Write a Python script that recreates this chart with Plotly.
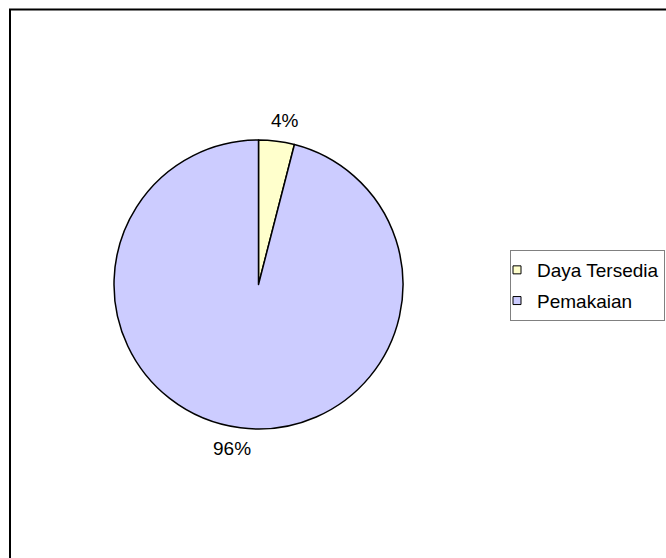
import math
import plotly.graph_objects as go

# Slice categories and their shares
categories = ["Daya Tersedia", "Pemakaian"]
values = [4, 96]
colors = ["#FFFFCC", "#CCCCFF"]

W, H = 666, 558
FONT = "Liberation Sans, Arial, sans-serif"

# Pie placement (pixels)
CX, CY, R = 258.5, 284.5, 144.5
LABEL_R = 165

fig = go.Figure()

fig.add_trace(go.Pie(
    labels=categories,
    values=values,
    sort=False,
    direction="clockwise",
    rotation=0,
    marker=dict(colors=colors, line=dict(color="#000000", width=1.5)),
    textinfo="none",
    domain=dict(x=[(CX - R) / W, (CX + R) / W],
                y=[1 - (CY + R) / H, 1 - (CY - R) / H]),
    showlegend=False,
    hoverinfo="label+percent",
))

# Percentage labels placed along each slice's bisector, outside the pie,
# nudged sideways away from the vertical axis
total = sum(values)
start = 0.0
annotations = []
for v in values:
    mid = (start + v / 2) / total * 2 * math.pi
    start += v
    px = CX + LABEL_R * math.sin(mid)
    py = CY - LABEL_R * math.cos(mid)
    side = 1 if math.sin(mid) >= 0 else -1
    annotations.append(dict(
        x=px / W, y=1 - py / H, xref="paper", yref="paper",
        text=f"{round(v / total * 100)}%", showarrow=False,
        xanchor="center", yanchor="middle", xshift=6 * side,
        font=dict(family=FONT, size=19, color="#000000"),
    ))

# Legend entries, one group per category so the gap between rows can be set
for name, col in zip(categories, colors):
    fig.add_trace(go.Scatter(
        x=[None], y=[None], mode="markers", name=name, legendgroup=name,
        marker=dict(symbol="square", size=8, color=col,
                    line=dict(color="#000000", width=1)),
    ))

fig.update_layout(
    width=W, height=H,
    margin=dict(l=0, r=0, t=0, b=0),
    paper_bgcolor="#FFFFFF",
    plot_bgcolor="#FFFFFF",
    xaxis=dict(visible=False),
    yaxis=dict(visible=False),
    font=dict(family=FONT, size=19, color="#000000"),
    legend=dict(
        x=510 / W, xanchor="left",
        y=1 - 250 / H, yanchor="top",
        bgcolor="#FFFFFF",
        bordercolor="#808080", borderwidth=1,
        font=dict(family=FONT, size=19, color="#000000"),
        tracegroupgap=3,
        itemwidth=30,
        indentation=-14,
    ),
    annotations=annotations,
    shapes=[dict(
        type="rect", xref="paper", yref="paper",
        x0=10 / W, x1=1.2, y0=-0.2, y1=1 - 9.5 / H,
        line=dict(color="#000000", width=2),
        fillcolor="rgba(0,0,0,0)", layer="below",
    )],
)

fig.write_html("out.html")
